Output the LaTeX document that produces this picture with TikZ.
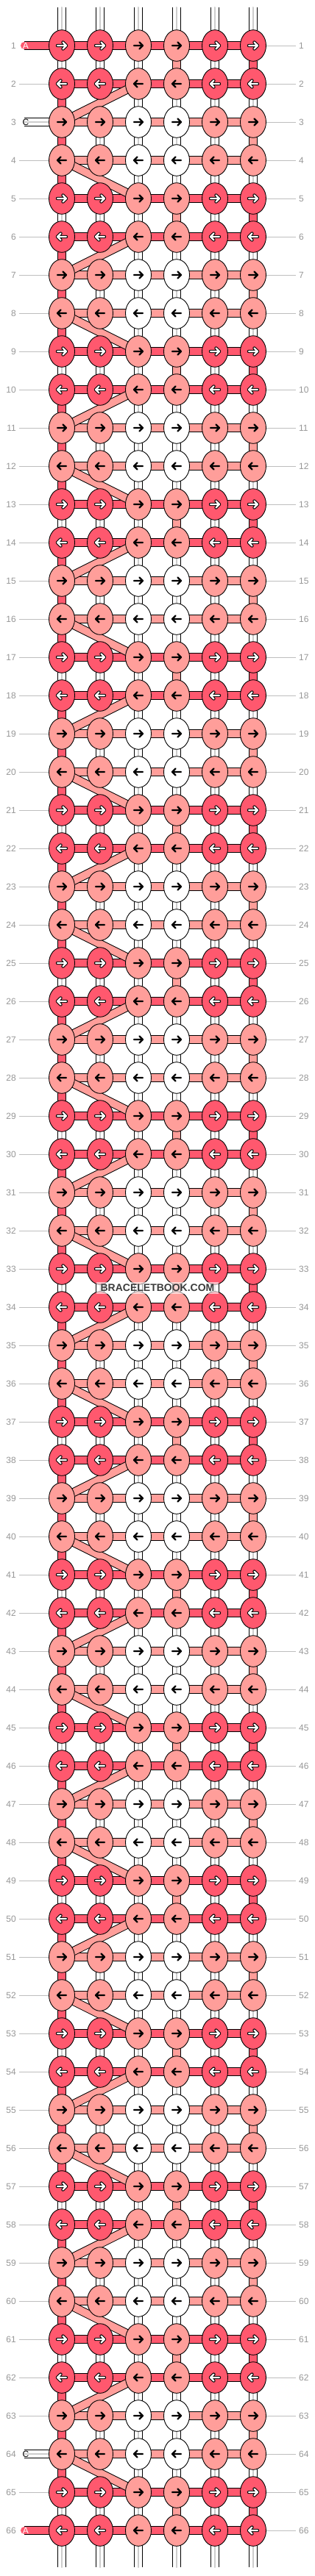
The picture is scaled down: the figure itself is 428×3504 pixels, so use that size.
\documentclass[tikz,border=0pt]{standalone}
\usepackage{fontspec}
\setmainfont{Liberation Sans}
\usetikzlibrary{shapes.geometric, backgrounds}
\definecolor{ThreadA}{RGB}{255, 88, 110}
\definecolor{ThreadB}{RGB}{255, 158, 154}
\definecolor{ThreadC}{RGB}{255, 255, 255}
\definecolor{RowGray}{RGB}{150, 150, 150}
\definecolor{LineGray}{RGB}{190, 190, 190}
\definecolor{StripeGray}{RGB}{205, 205, 205}
\definecolor{MarkGray}{RGB}{60, 60, 60}

\begin{document}
\begin{tikzpicture}[x=1pt, y=-1pt,
        knot/.style={ellipse, draw=black, line width=0.9pt, minimum width=35pt, minimum height=42.6pt, inner sep=0pt},
        knot0/.style={knot, fill=ThreadA},
        knot1/.style={knot, fill=ThreadB},
        knot2/.style={knot, fill=ThreadC},
        strand/.style={line width=10pt, preaction={draw=black, line width=12pt}},
        strand0/.style={strand, draw=ThreadA},
        strand1/.style={strand, draw=ThreadB},
        strand2/.style={strand, draw=ThreadC, postaction={draw=StripeGray, line width=2pt}},
        tail/.style={line cap=round},
        ink/.style={line width=2.4pt, line cap=round, line join=round},
        pics/fwd/.style={code={\draw[ink, #1] (-6,0) -- (6,0) (1.5,-4.5) -- (6,0) -- (1.5,4.5);}},
        rowno/.style={font=\fontsize{12}{12}\selectfont, text=RowGray, inner xsep=4pt, inner ysep=0pt},
        rowline/.style={draw=LineGray, line width=0.8pt},
        taillbl/.style={font=\fontsize{12}{12}\selectfont, inner sep=0pt}
    ]
    \useasboundingbox (0,0) rectangle (428,3504);
    % knots and arrows
    \foreach \r in {1,...,66}{
        \pgfmathtruncatemacro{\m}{mod(\r-1,4)}
        \pgfmathtruncatemacro{\s}{1-2*mod(\m,2)}
        \foreach \c in {1,...,6}{
            \pgfmathtruncatemacro{\t}{(\m>1) + ((\c==3)||(\c==4))}
            \node[knot\t] (k-\r-\c) at ({84+52*(\c-1)}, {62+52*(\r-1)}) {};
            \ifnum\t=0
                \pic[xscale=\s] at (k-\r-\c) {fwd={black, line width=4.4pt}};
                \pic[xscale=\s] at (k-\r-\c) {fwd={white, line width=2.2pt}};
            \else
                \pic[xscale=\s] at (k-\r-\c) {fwd=black};
            \fi
        }
    }
    % row numbers
    \foreach \r in {1,...,66}{
        \pgfmathtruncatemacro{\tl}{(\r==1)||(\r==3)||(\r==64)||(\r==66)}
        \node[rowno, anchor=east] (ln-\r) at (26, {62+52*(\r-1)}) {\r};
        \node[rowno, anchor=west] (rn-\r) at (402, {62+52*(\r-1)}) {\r};
        \ifnum\tl=0 \draw[rowline] (ln-\r) -- (k-\r-1);\fi
        \draw[rowline] (k-\r-6) -- (rn-\r);
    }
    % tails
    \coordinate (tail-1) at (33,62);
    \coordinate (tail-3) at (33,166);
    \coordinate (tail-64) at (33,3338);
    \coordinate (tail-66) at (33,3442);
    \node[taillbl, text=white] (lbl-1) at (35,62) {A};
    \node[taillbl, text=black] (lbl-3) at (35,166) {C};
    \node[taillbl, text=black] (lbl-64) at (35,3338) {C};
    \node[taillbl, text=white] (lbl-66) at (35,3442) {A};
    \node[font=\bfseries\fontsize{14}{14}\selectfont, text=MarkGray, fill=white, fill opacity=0.6, text opacity=1,
          inner xsep=6pt, inner ysep=3.5pt] (mark) at (214,1752) {BRACELETBOOK.COM};

    \begin{scope}[on background layer]
        % horizontal strands
        \foreach \r in {1,...,66}{
            \pgfmathtruncatemacro{\h}{mod(\r-1,4)>1}
            \foreach \c [evaluate=\c as \n using int(\c+1)] in {1,...,5}
                \draw[strand\h] (k-\r-\c.center) -- (k-\r-\n.center);
        }
        % vertical strands
        \def\vtab{{2,2,2,1,2,0, 0,9,2,2,2,2, 0,2,2,2,2,1, 0,9,2,2,2,2}}
        \foreach \r in {1,...,65}{
            \pgfmathtruncatemacro{\m}{mod(\r-1,4)}
            \pgfmathtruncatemacro{\q}{\r+1}
            \foreach \c in {1,...,6}{
                \pgfmathtruncatemacro{\v}{\vtab[6*\m+\c-1]}
                \ifnum\v<9 \draw[strand\v] (k-\r-\c.center) -- (k-\q-\c.center);\fi
            }
        }
        % top and bottom ends
        \foreach \c in {1,...,6}{
            \coordinate (top-\c) at ({84+52*(\c-1)}, 10);
            \coordinate (bot-\c) at ({84+52*(\c-1)}, 3492);
            \draw[strand2, tail] (top-\c) -- (k-1-\c.center);
            \draw[strand2, tail] (k-66-\c.center) -- (bot-\c);
        }
        \draw[strand0, tail] (tail-1) -- (k-1-1.center);
        \draw[strand2, tail] (tail-3) -- (k-3-1.center);
        \draw[strand2, tail] (tail-64) -- (k-64-1.center);
        \draw[strand0, tail] (tail-66) -- (k-66-1.center);
        % crossing strands
        \foreach \r in {1,...,65}{
            \pgfmathtruncatemacro{\m}{mod(\r-1,4)}
            \pgfmathtruncatemacro{\q}{\r+1}
            \ifnum\m=1 \draw[strand1] (k-\r-3.center) -- (k-\q-1.center);\fi
            \ifnum\m=3 \draw[strand1] (k-\r-1.center) -- (k-\q-3.center);\fi
        }
    \end{scope}
\end{tikzpicture}
\end{document}
